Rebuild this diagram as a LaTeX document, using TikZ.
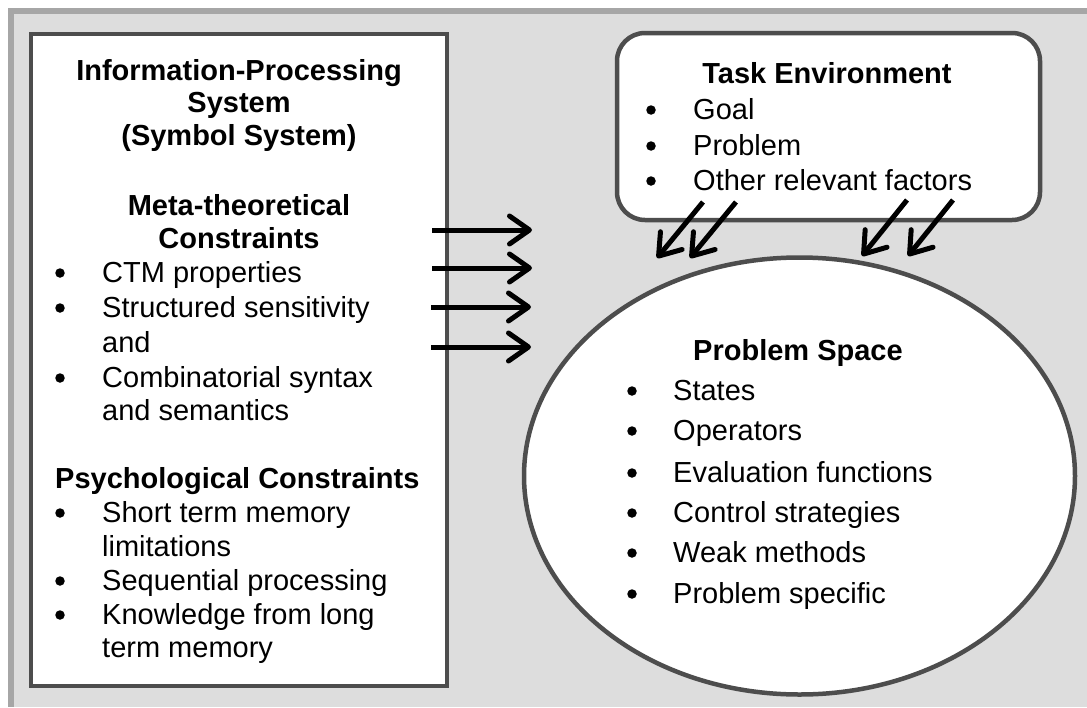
\documentclass[tikz,border=0pt]{standalone}
\usepackage{fontspec}
\setmainfont{Liberation Sans}
\usetikzlibrary{arrows.meta,shapes.geometric}
\definecolor{panel}{HTML}{DDDDDD}
\definecolor{framegray}{HTML}{A6A6A6}
\definecolor{edgegray}{HTML}{4D4D4D}

\begin{document}
\begin{tikzpicture}[x=1pt,y=-1pt,
  txt/.style={anchor=base west,inner sep=0pt,font=\fontsize{29}{34}\selectfont},
  head/.style={anchor=base,inner sep=0pt,font=\fontsize{29}{34}\selectfont\bfseries},
  headl/.style={anchor=base west,inner sep=0pt,font=\fontsize{29}{34}\selectfont\bfseries},
  dot/.style={circle,fill=black,inner sep=0pt,minimum size=9.5pt,yshift=9pt},
  boxline/.style={draw=edgegray,fill=white,line width=4.5pt},
  flow/.style={line width=5pt,-{Straight Barb[length=20pt,width=28pt,round]}}
]
\useasboundingbox (0,0) rectangle (1087,707);

% background panel with its top and left frame lines
\fill[panel] (11,11) rectangle (1087,707);
\draw[framegray,line width=5.5pt] (1087,11) -- (11,11) -- (11,707);

% the three containers
\node[boxline,rectangle,minimum width=416pt,minimum height=652pt,inner sep=0pt]
  (ips) at (239,360) {};
\node[boxline,rectangle,rounded corners=28pt,minimum width=423pt,minimum height=187pt,inner sep=0pt]
  (te) at (828.5,126.5) {};
\node[boxline,ellipse,minimum width=551pt,minimum height=437pt,inner sep=0pt]
  (ps) at (799.5,476) {};

% information-processing system
\node[head] (ips1) at (239,80) {Information-Processing};
\node[head] (ips2) at (239,112) {System};
\node[head] (ips3) at (239,145) {(Symbol System)};
\node[head] (mt1) at (239,215) {Meta-theoretical};
\node[head] (mt2) at (239,248) {Constraints};
\node[dot] (b1) at (60,282) {};
\node[txt] (t1) at (102,282) {CTM properties};
\node[dot] (b2) at (60,317) {};
\node[txt] (t2) at (102,317) {Structured sensitivity};
\node[txt] (t2b) at (102,352) {and};
\node[dot] (b3) at (60,387) {};
\node[txt] (t3) at (102,387) {Combinatorial syntax};
\node[txt] (t3b) at (102,420) {and semantics};
\node[headl] (pc) at (55,488) {Psychological Constraints};
\node[dot] (b4) at (60,522) {};
\node[txt] (t4) at (102,522) {Short term memory};
\node[txt] (t4b) at (102,556) {limitations};
\node[dot] (b5) at (60,590) {};
\node[txt] (t5) at (102,590) {Sequential processing};
\node[dot] (b6) at (60,624) {};
\node[txt] (t6) at (102,624) {Knowledge from long};
\node[txt] (t6b) at (102,657) {term memory};

% task environment
\node[head] (teh) at (827,83) {Task Environment};
\node[dot] (e1) at (651,119) {};
\node[txt] (et1) at (693,119) {Goal};
\node[dot] (e2) at (651,155) {};
\node[txt] (et2) at (693,155) {Problem};
\node[dot] (e3) at (651,190) {};
\node[txt] (et3) at (693,190) {Other relevant factors};

% problem space
\node[head] (psh) at (798,360) {Problem Space};
\node[dot] (p1) at (632,400) {};
\node[txt] (pt1) at (673,400) {States};
\node[dot] (p2) at (632,440) {};
\node[txt] (pt2) at (673,440) {Operators};
\node[dot] (p3) at (632,482) {};
\node[txt] (pt3) at (673,482) {Evaluation functions};
\node[dot] (p4) at (632,522) {};
\node[txt] (pt4) at (673,522) {Control strategies};
\node[dot] (p5) at (632,562) {};
\node[txt] (pt5) at (673,562) {Weak methods};
\node[dot] (p6) at (632,603) {};
\node[txt] (pt6) at (673,603) {Problem specific};

% arrow end points
\coordinate (h1a) at (432,230); \coordinate (h1b) at (532,230);
\coordinate (h2a) at (432,268); \coordinate (h2b) at (532,268);
\coordinate (h3a) at (431,307); \coordinate (h3b) at (531,307);
\coordinate (h4a) at (431,347); \coordinate (h4b) at (531,347);
\coordinate (d1a) at (703,202); \coordinate (d1b) at (657,258);
\coordinate (d2a) at (736,202); \coordinate (d2b) at (690,258);
\coordinate (d3a) at (907,200); \coordinate (d3b) at (862,256);
\coordinate (d4a) at (953,200); \coordinate (d4b) at (908,256);

% constraints feeding the problem space
\draw[flow] (h1a) -- (h1b);
\draw[flow] (h2a) -- (h2b);
\draw[flow] (h3a) -- (h3b);
\draw[flow] (h4a) -- (h4b);
% task environment feeding the problem space
\draw[flow] (d1a) -- (d1b);
\draw[flow] (d2a) -- (d2b);
\draw[flow] (d3a) -- (d3b);
\draw[flow] (d4a) -- (d4b);
\end{tikzpicture}
\end{document}
